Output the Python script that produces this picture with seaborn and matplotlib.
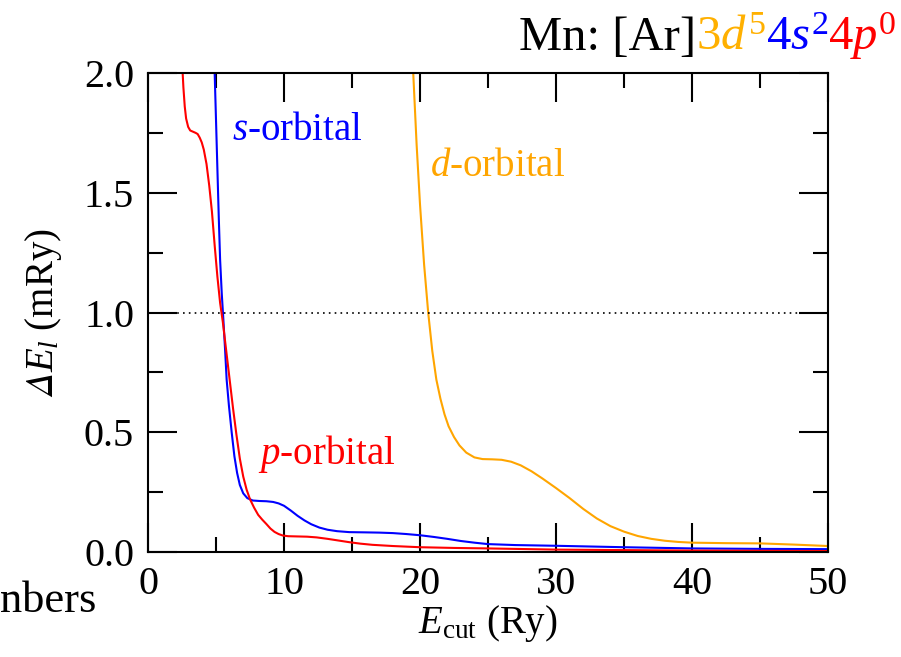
import numpy as np
import pandas as pd
import seaborn as sns
import matplotlib.pyplot as plt
from matplotlib.offsetbox import TextArea, HPacker, AnchoredOffsetbox

# values (E_cut in Ry, Delta E in mRy)
s_ecut = [4.85, 4.9, 5.0, 5.1, 5.2, 5.3, 5.42, 5.55, 5.67, 5.78, 5.95, 6.15, 6.35, 6.55,
          6.75, 7.0, 7.3, 7.7, 8.2, 8.7, 9.2, 9.6, 10.0, 10.5, 11.0, 11.5, 12.0, 12.6,
          13.2, 13.9, 14.8, 16.0, 17.0, 18.0, 19.0, 20.0, 21.0, 22.0, 23.0, 24.0, 25.0,
          27.0, 30.0, 35.0, 40.0, 45.0, 50.0]
s_de = [2.3, 2.0, 1.8, 1.6, 1.4, 1.22, 1.08, 0.96, 0.84, 0.72, 0.61, 0.5, 0.4, 0.33,
        0.28, 0.245, 0.225, 0.215, 0.213, 0.212, 0.209, 0.203, 0.193, 0.173, 0.151, 0.132,
        0.116, 0.102, 0.093, 0.087, 0.083, 0.082, 0.081, 0.079, 0.075, 0.07, 0.063, 0.055,
        0.046, 0.039, 0.033, 0.029, 0.026, 0.02, 0.015, 0.013, 0.012]

p_ecut = [2.4, 2.5, 2.6, 2.7, 2.8, 2.95, 3.1, 3.3, 3.5, 3.65, 3.8, 3.95, 4.1, 4.3, 4.5,
          4.7, 4.9, 5.1, 5.3, 5.5, 5.75, 6.0, 6.25, 6.5, 6.75, 7.0, 7.25, 7.5, 7.8, 8.1,
          8.4, 8.7, 9.0, 9.3, 9.6, 9.9, 10.3, 11.0, 11.7, 12.4, 13.2, 14.0, 14.8, 15.6,
          16.5, 18.0, 20.0, 22.5, 25.0, 30.0, 35.0, 40.0, 45.0, 50.0]
p_de = [2.2, 2.05, 1.94, 1.86, 1.81, 1.775, 1.76, 1.755, 1.75, 1.745, 1.73, 1.71, 1.68,
        1.62, 1.53, 1.42, 1.28, 1.15, 1.04, 0.96, 0.84, 0.72, 0.6, 0.49, 0.39, 0.315,
        0.26, 0.22, 0.185, 0.155, 0.135, 0.117, 0.098, 0.084, 0.075, 0.069, 0.066, 0.065,
        0.064, 0.061, 0.055, 0.048, 0.041, 0.035, 0.03, 0.025, 0.02, 0.017, 0.015, 0.01,
        0.008, 0.006, 0.005, 0.004]

d_ecut = [19.3, 19.5, 19.75, 20.0, 20.3, 20.6, 20.9, 21.2, 21.5, 21.8, 22.1, 22.5, 22.9,
          23.4, 24.0, 24.6, 25.3, 26.0, 26.7, 27.4, 28.2, 29.0, 30.0, 31.0, 32.0, 33.0,
          34.0, 35.0, 36.0, 37.0, 38.0, 39.0, 40.0, 42.5, 45.0, 47.5, 50.0]
d_de = [2.3, 2.0, 1.7, 1.45, 1.2, 1.0, 0.84, 0.72, 0.64, 0.575, 0.525, 0.48, 0.445,
        0.415, 0.395, 0.388, 0.387, 0.385, 0.377, 0.362, 0.337, 0.307, 0.267, 0.225,
        0.18, 0.14, 0.108, 0.085, 0.067, 0.055, 0.047, 0.042, 0.039, 0.037, 0.036,
        0.031, 0.025]

df = pd.concat([
    pd.DataFrame({'Ecut': s_ecut, 'dE': s_de, 'orb': 's'}),
    pd.DataFrame({'Ecut': p_ecut, 'dE': p_de, 'orb': 'p'}),
    pd.DataFrame({'Ecut': d_ecut, 'dE': d_de, 'orb': 'd'}),
])
colors = {'s': '#0000ff', 'p': '#ff0000', 'd': '#ffa500'}

sns.set_style('ticks')
plt.rcParams['font.family'] = ['Liberation Serif', 'DejaVu Serif']
plt.rcParams['mathtext.fontset'] = 'custom'
plt.rcParams['mathtext.rm'] = 'Liberation Serif'
plt.rcParams['mathtext.it'] = 'Liberation Serif:italic'
plt.rcParams['mathtext.cal'] = 'STIXGeneral:italic'   # slanted Delta
plt.rcParams['text.color'] = 'black'
plt.rcParams['axes.labelcolor'] = 'black'

fig = plt.figure(figsize=(9.01, 6.57), dpi=100)
ax = fig.add_axes([0.1643, 0.1598, 0.7547, 0.7291])

sns.lineplot(data=df, x='Ecut', y='dE', hue='orb', palette=colors, sort=False,
             estimator=None, lw=1.5, legend=False, ax=ax)
ax.axhline(1.0, color='black', linestyle=(0, (1, 2.5)), lw=1.2)

ax.set_xlim(0, 50)
ax.set_ylim(0, 2.0)
ax.set_xticks(np.arange(0, 51, 10))
ax.set_xticks(np.arange(0, 51, 5), minor=True)
ax.set_yticks(np.arange(0, 2.01, 0.5))
ax.set_yticks(np.arange(0, 2.01, 0.25), minor=True)
ax.set_xticklabels([str(v) for v in range(0, 51, 10)])
ax.set_yticklabels(['0.0', '0.5', '1.0', '1.5', '2.0'])
ax.tick_params(which='both', direction='in', top=True, right=True, width=1.5,
               labelsize=29, color='black', labelcolor='black')
ax.tick_params(which='major', length=21, pad=10)
ax.tick_params(which='minor', length=10.5)
for sp in ax.spines.values():
    sp.set_linewidth(1.5)
    sp.set_color('black')

ax.set_xlabel(r'$E_{\rm cut}$ (Ry)', fontsize=28, labelpad=0)
ax.set_ylabel(r'$\mathcal{Δ}\mathit{E}_{l}$ (mRy)', fontsize=28, labelpad=14)

ax.text(6.2, 1.76, r'$s$-orbital', color=colors['s'], fontsize=28, va='center')
ax.text(20.7, 1.61, r'$d$-orbital', color=colors['d'], fontsize=28, va='center')
ax.text(8.1, 0.41, r'$p$-orbital', color=colors['p'], fontsize=28, va='center')

parts = [('Mn: [Ar]', 'black'), (r'3$d^5$', '#ffb000'),
         (r'4$s^2$', '#0000ff'), (r'4$p^0$', '#ff0000')]
boxes = [TextArea(t, textprops=dict(color=c, fontsize=35)) for t, c in parts]
pack = HPacker(children=boxes, align='baseline', pad=0, sep=0)
anch = AnchoredOffsetbox(loc='center right', child=pack, pad=0, borderpad=0,
                         frameon=False, bbox_to_anchor=(0.995, 0.945),
                         bbox_transform=fig.transFigure)
fig.add_artist(anch)

fig.text(0.0, 0.085, 'nbers', fontsize=32, ha='left', va='center')

fig.savefig('out.png', dpi=100)
